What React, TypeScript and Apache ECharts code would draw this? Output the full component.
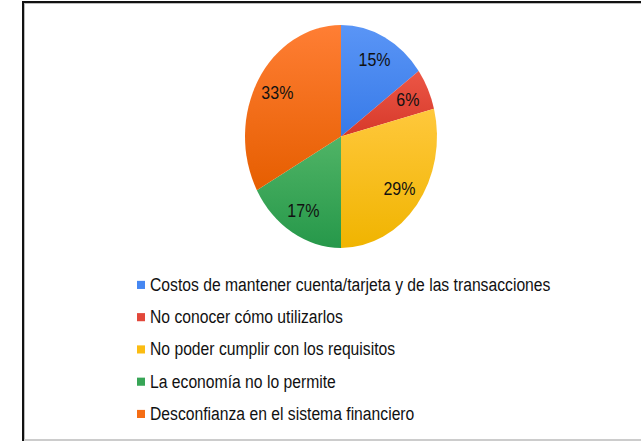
import { useEffect, useRef } from "react";
import * as echarts from "echarts";

const categories = [
  "Costos de mantener cuenta/tarjeta y de las transacciones",
  "No conocer cómo utilizarlos",
  "No poder cumplir con los requisitos",
  "La economía no lo permite",
  "Desconfianza en el sistema financiero",
];
const values = [15, 6, 29, 17, 33];

const topColors = ["#5a95f6", "#ec5646", "#ffc83c", "#50b466", "#ff7e34"];
const bottomColors = ["#377ae8", "#d6392a", "#f0b400", "#26984a", "#e65e00"];
const legendColors = ["#4587f2", "#e2473a", "#fbbc12", "#37a556", "#f56d14"];

const W = 641;
const H = 380;
const STRETCH = 441 / H;
const CX = 341;
const CY = 117.6;
const R = 96;
const LABEL_F = 0.77;
const FONT = "'Liberation Sans', Arial, sans-serif";

export default function App() {
  const ref = useRef<HTMLDivElement>(null);
  useEffect(() => {
    const chart = echarts.init(ref.current!, null, { renderer: "svg" });
    const total = values.reduce((a, b) => a + b, 0);
    const midAngles: number[] = [];
    let acc = 0;
    values.forEach((v) => {
      const mid = -Math.PI / 2 + ((acc + v / 2) / total) * Math.PI * 2;
      midAngles.push(mid);
      acc += v;
    });
    chart.setOption({
      animation: false,
      legend: {
        orient: "vertical",
        left: 137,
        top: 237.5,
        padding: 0,
        itemWidth: 8,
        itemHeight: 7,
        itemGap: 11.8,
        icon: "rect",
        selectedMode: false,
        textStyle: { fontFamily: FONT, fontSize: 15.7, color: "#111", lineHeight: 16 },
        data: categories.map((name, i) => ({
          name,
          itemStyle: { color: legendColors[i] },
        })),
      },
      series: [
        {
          type: "pie",
          center: [CX, CY],
          radius: [0, R],
          startAngle: 90,
          clockwise: true,
          silent: true,
          emphasis: { disabled: true },
          itemStyle: { borderWidth: 0 },
          data: categories.map((name, i) => ({
            name,
            value: values[i],
            itemStyle: {
              color: new echarts.graphic.LinearGradient(0, 0, 0, 1, [
                { offset: 0, color: topColors[i] },
                { offset: 1, color: bottomColors[i] },
              ]),
            },
          })),
          label: {
            show: true,
            position: "inside",
            formatter: (p: any) => p.value + "%",
            fontFamily: FONT,
            fontSize: 16,
            color: "#111",
          },
          labelLine: { show: false },
          labelLayout: (p: any) => {
            const a = midAngles[p.dataIndex];
            return {
              x: CX + Math.cos(a) * R * LABEL_F,
              y: CY + Math.sin(a) * R * LABEL_F,
              align: "center",
              verticalAlign: "middle",
            };
          },
        },
      ],
    });
    return () => chart.dispose();
  }, []);

  return (
    <div style={{ position: "fixed", left: 0, top: 0, width: W, height: 441, background: "#fff", overflow: "hidden" }}>
      <div
        style={{
          position: "absolute",
          left: 0,
          top: 0,
          width: W,
          height: H,
          transform: `scaleY(${STRETCH})`,
          transformOrigin: "0 0",
        }}
      >
        <div ref={ref} style={{ width: W, height: H }} />
      </div>
      <div style={{ position: "absolute", left: 22, top: 1, width: 2, height: 440, background: "#111" }} />
      <div style={{ position: "absolute", left: 22, top: 1, width: 619, height: 2, background: "#111" }} />
      <div style={{ position: "absolute", left: 24, top: 3, width: 1, height: 438, background: "#bbb" }} />
      <div style={{ position: "absolute", left: 24, top: 3, width: 617, height: 1, background: "#bbb" }} />
      <div style={{ position: "absolute", left: 24, top: 439, width: 617, height: 2, background: "#ccc" }} />
    </div>
  );
}
